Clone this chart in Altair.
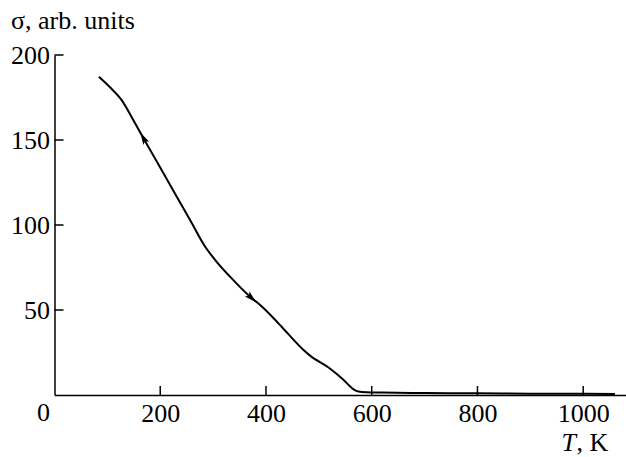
import altair as alt
import pandas as pd

# curve data
T_vals = [84, 105, 127, 149, 168, 194, 224, 257, 285, 304, 332, 370, 389, 414,
          430, 471, 484, 519, 547, 565, 575, 590, 620, 700, 800, 900, 1000, 1060]
sigma_vals = [187.2, 181.0, 173.5, 161.8, 151.2, 137.0, 120.6, 102.6, 87.2, 79.4,
              69.6, 57.8, 52.9, 45.3, 40.0, 26.5, 23.0, 16.0, 8.8, 3.5, 2.0, 1.6,
              1.4, 1.2, 1.0, 0.8, 0.7, 0.6]

# arrow heads on the curve
arrow_T = [168, 373]
arrow_sigma = [151.2, 57.0]
arrow_angle = [331, 133]

x_ticks = [200, 400, 600, 800, 1000]
y_ticks = [50, 100, 150, 200]

FONT = "Liberation Serif"
FS = 26
W, H = 571, 340

curve = pd.DataFrame({"T": T_vals, "sigma": sigma_vals})
arrows = pd.DataFrame({"T": arrow_T, "sigma": arrow_sigma, "angle": arrow_angle})
xt = pd.DataFrame({"v": x_ticks})
yt = pd.DataFrame({"v": y_ticks})

xscale = alt.Scale(domain=[0, 1080], nice=False)
yscale = alt.Scale(domain=[0, 200], nice=False)

xaxis = alt.Axis(values=x_ticks, ticks=False, tickSize=0, labelPadding=5, format="d",
                 labelFont=FONT, labelFontSize=FS, labelColor="black",
                 domainColor="black", domainWidth=1.5, grid=False, title=None)
yaxis = alt.Axis(values=y_ticks, ticks=False, tickSize=0, labelPadding=5, format="d",
                 labelFont=FONT, labelFontSize=FS, labelColor="black",
                 domainColor="black", domainWidth=1.5, grid=False,
                 title="σ, arb. units", titleFont=FONT, titleFontSize=FS,
                 titleFontWeight="normal", titleColor="black", titleAngle=0,
                 titleAlign="left", titleBaseline="alphabetic",
                 titleX=-44, titleY=-27)

line = alt.Chart(curve).mark_line(color="black", strokeWidth=2, interpolate="monotone").encode(
    x=alt.X("T:Q", scale=xscale, axis=xaxis),
    y=alt.Y("sigma:Q", scale=yscale, axis=yaxis),
)

arrow_layer = alt.Chart(arrows).mark_point(
    shape="M0,-1L0.55,1L0,0.6L-0.55,1Z", filled=True, color="black", opacity=1, size=150
).encode(
    x=alt.X("T:Q", scale=xscale),
    y=alt.Y("sigma:Q", scale=yscale),
    angle=alt.Angle("angle:Q", scale=None),
)

xtick_layer = alt.Chart(xt).mark_rule(color="black", strokeWidth=1.5).encode(
    x=alt.X("v:Q", scale=xscale),
    y=alt.value(H),
    y2=alt.value(H - 9),
)

ytick_layer = alt.Chart(yt).mark_rule(color="black", strokeWidth=1.5).encode(
    y=alt.Y("v:Q", scale=yscale),
    x=alt.value(0),
    x2=alt.value(9),
)

zero_label = alt.Chart(pd.DataFrame({"t": ["0"]})).mark_text(
    font=FONT, fontSize=FS, color="black", baseline="alphabetic", align="center",
    dx=-11, dy=26
).encode(x=alt.X(datum=0), y=alt.Y(datum=0), text="t:N")

t_label = alt.Chart(pd.DataFrame({"t": ["T"]})).mark_text(
    font=FONT, fontSize=FS, fontStyle="italic", color="black",
    baseline="alphabetic", align="left"
).encode(x=alt.value(507), y=alt.value(396), text="t:N")

k_label = alt.Chart(pd.DataFrame({"t": [", K"]})).mark_text(
    font=FONT, fontSize=FS, color="black", baseline="alphabetic", align="left"
).encode(x=alt.value(522), y=alt.value(396), text="t:N")

chart = alt.layer(line, arrow_layer, xtick_layer, ytick_layer, zero_label, t_label, k_label).properties(
    width=W, height=H,
    autosize=alt.AutoSizeParams(type="none"),
    padding={"left": 54.5, "top": 55, "right": 0, "bottom": 62},
    background="white",
).configure_view(stroke=None)

chart.save("out.html", embed_options={"renderer": "svg", "actions": False})
